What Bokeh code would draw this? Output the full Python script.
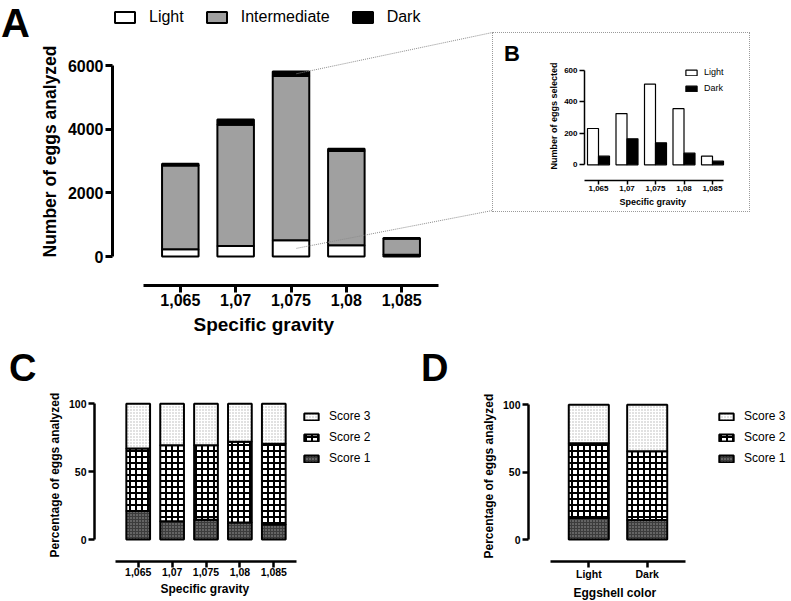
from bokeh.plotting import figure
from bokeh.layouts import column, row
from bokeh.models import (FixedTicker, Legend, LegendItem, Range1d, Spacer, Div, Title,
                          ColumnDataSource)
from bokeh.transform import dodge
from bokeh.embed import file_html
from bokeh.resources import INLINE

FONT = "Liberation Sans"

# ---------------- data ----------------
categories = ["1,065", "1,07", "1,075", "1,08", "1,085"]
light_counts = [231, 326, 513, 357, 55]
intermediate_counts = [2630, 3811, 5159, 2954, 506]
dark_counts = [55, 165, 140, 74, 23]

light_selected = [231, 326, 513, 357, 55]
dark_selected = [55, 165, 140, 74, 23]

score1_gravity = [21, 13.5, 14.5, 12.5, 11]
score2_gravity = [46, 56, 55, 59.5, 59.5]
score3_gravity = [33, 30.5, 30.5, 28, 29.5]

shell_colors = ["Light", "Dark"]
score1_color = [16, 14.5]
score2_color = [55.5, 51]
score3_color = [28.5, 34.5]

a_y_ticks = [0, 2000, 4000, 6000]
b_y_ticks = [0, 200, 400, 600]
pct_ticks = [0, 50, 100]


def span(v0, p0, v1, p1, lo_px, hi_px):
    k = (v1 - v0) / (p1 - p0)
    return Range1d(v0 + (lo_px - p0) * k, v0 + (hi_px - p0) * k)


def px_to_val(v0, p0, v1, p1, px):
    k = (v1 - v0) / (p1 - p0)
    return v0 + (px - p0) * k


def style_axis(ax, lw, tick_out, tick_px, label_standoff):
    ax.axis_line_width = lw
    ax.axis_line_color = "black"
    ax.major_tick_line_width = lw
    ax.major_tick_line_color = "black"
    ax.major_tick_out = tick_out
    ax.major_tick_in = 0
    ax.minor_tick_line_color = None
    ax.major_label_text_font = FONT
    ax.major_label_text_font_style = "bold"
    ax.major_label_text_font_size = f"{tick_px}px"
    ax.major_label_text_color = "black"
    ax.major_label_standoff = label_standoff


def axis_title(p, text, side, size, offset, standoff):
    p.add_layout(Title(text=text, align="left", offset=offset, standoff=standoff,
                       text_font=FONT, text_font_style="bold",
                       text_font_size=f"{size}px", text_color="black"), side)


def base_fig(width, height, xr, yr, left, right, top, bottom):
    p = figure(width=width, height=height, x_range=xr, y_range=yr,
               output_backend="svg", toolbar_location=None,
               min_border_left=left, min_border_right=right,
               min_border_top=top, min_border_bottom=bottom)
    p.outline_line_color = None
    p.grid.visible = False
    p.background_fill_color = "white"
    p.border_fill_color = "white"
    return p


def letter_div(text, width, height, size, pad_left, line_h):
    html = (f'<div style="font-family:\'{FONT}\';font-weight:bold;font-size:{size}px;'
            f'line-height:{line_h}px;margin:0;padding:0 0 0 {pad_left}px;color:black;">'
            f'{text}</div>')
    return Div(text=html, width=width, height=height, margin=0)


def make_legend(items, loc, gw, gh, font_px, spacing, standoff, orientation="vertical"):
    return Legend(items=items, location=loc, orientation=orientation,
                  glyph_width=gw, glyph_height=gh, label_height=gh,
                  label_text_font=FONT, label_text_font_size=f"{font_px}px",
                  label_text_color="black", label_standoff=standoff,
                  spacing=spacing, padding=0, margin=0,
                  border_line_color=None, background_fill_alpha=0)


xs = list(range(1, len(categories) + 1))
labels_map = {x: c for x, c in zip(xs, categories)}

# ---------------- Panel A ----------------
A_LEFT = 32
A_FRAME = (107, 492, 0, 285)  # left, right, top, bottom (page px)
div_a = letter_div("A", A_LEFT, 48, 40, 1, 46)
ax_anchor = (1, 175.7, 5, 400.0)
ay_anchor = (0, 256.0, 6000, 65.0)
pa = base_fig(A_FRAME[1] - A_LEFT, 345, span(*ax_anchor, A_FRAME[0], A_FRAME[1]),
              span(*ay_anchor, A_FRAME[3], A_FRAME[2]),
              A_FRAME[0] - A_LEFT, 0, 0, 60)
a_fills = ["white", "#a0a0a0", "black"]
a_names = ["Light", "Intermediate", "Dark"]
src_a = ColumnDataSource(dict(x=xs, light=light_counts,
                              intermediate=intermediate_counts, dark=dark_counts))
rs_a = pa.vbar_stack(["light", "intermediate", "dark"], x="x", width=0.66, source=src_a,
                     fill_color=a_fills, line_color="black", line_width=2)
pa.xaxis.ticker = FixedTicker(ticks=xs)
pa.xaxis.major_label_overrides = labels_map
pa.xaxis.bounds = (0.33, 5.67)
pa.yaxis.ticker = FixedTicker(ticks=a_y_ticks)
pa.yaxis.bounds = (0, 6000)
style_axis(pa.xaxis[0], 3, 7, 16, 1)
style_axis(pa.yaxis[0], 3, 7, 16, 2)
axis_title(pa, "Specific gravity", "below", 19, 188 - A_FRAME[0], 6)
axis_title(pa, "Number of eggs analyzed", "left", 17.5, A_FRAME[3] - 257, 10)
pa.add_layout(make_legend([LegendItem(label=n, renderers=[r]) for n, r in zip(a_names, rs_a)],
                          (0, 259), 25, 14, 16, 20, 12, orientation="horizontal"))

# zoom connector lines from the 1,075 bar to the panel B box corners
B_TOP, B_BOTTOM = 32, 210
i3 = 2
x_start = xs[i3] + 0.1
top3 = light_counts[i3] + intermediate_counts[i3] + dark_counts[i3]
x_end = pa.x_range.end
pa.line([x_start, x_end], [top3 - dark_counts[i3] / 2, px_to_val(*ay_anchor, B_TOP)],
        line_color="#8c8c8c", line_width=1, line_dash="1 1")
pa.line([x_start, x_end], [light_counts[i3] / 2, px_to_val(*ay_anchor, B_BOTTOM)],
        line_color="#8c8c8c", line_width=1, line_dash="1 1")

# ---------------- Panel B ----------------
B_H = B_BOTTOM - B_TOP
B_FRAME = (583, 740, 40, 179)
div_b = letter_div("B", 30, B_H, 22, 11, 2 * (60 - B_TOP) - 15)
bx_anchor = (1, 597.0, 5, 711.0)
by_anchor = (0, 163.3, 600, 69.0)
pb = base_fig(226, B_H, span(*bx_anchor, B_FRAME[0], B_FRAME[1]),
              span(*by_anchor, B_FRAME[3], B_FRAME[2]),
              B_FRAME[0] - 522, 748 - B_FRAME[1], B_FRAME[2] - B_TOP, B_BOTTOM - B_FRAME[3])
src_b = ColumnDataSource(dict(x=xs, light=light_selected, dark=dark_selected))
rb1 = pb.vbar(x=dodge("x", -0.193), top="light", width=0.386, source=src_b,
              fill_color="white", line_color="black", line_width=1.2)
rb2 = pb.vbar(x=dodge("x", 0.193), top="dark", width=0.386, source=src_b,
              fill_color="black", line_color="black", line_width=1.2)
pb.xaxis.ticker = FixedTicker(ticks=xs)
pb.xaxis.major_label_overrides = labels_map
pb.xaxis.bounds = (0.5, 5.4)
pb.yaxis.ticker = FixedTicker(ticks=b_y_ticks)
pb.yaxis.bounds = (0, 600)
style_axis(pb.xaxis[0], 1.5, 4, 8, 1)
style_axis(pb.yaxis[0], 1.5, 5, 8, 2)
axis_title(pb, "Specific gravity", "below", 9, 618 - B_FRAME[0], 3)
axis_title(pb, "Number of eggs selected", "left", 9, B_FRAME[3] - 168, 6)
pb.add_layout(make_legend([LegendItem(label="Light", renderers=[rb1]),
                           LegendItem(label="Dark", renderers=[rb2])],
                          (100, 87), 14, 7, 9, 6, 6))
b_box = row(div_b, pb)
b_box.styles = {"border": "1px dotted #9a9a9a"}

# ---------------- score panels ----------------
score_fill = ["#3c3c3c", "white", "white"]
score_pattern = [".", "+", "."]
score_hatch_color = ["#a0a0a0", "black", "#b4b4b4"]
score_hatch_scale = [3, 6, 3]
score_hatch_weight = [1, 2.0, 1]


def score_panel(p, xvals, s1, s2, s3, width):
    src = ColumnDataSource(dict(x=xvals, s1=s1, s2=s2, s3=s3))
    return p.vbar_stack(["s1", "s2", "s3"], x="x", width=width, source=src,
                        fill_color=score_fill, line_color="black", line_width=2,
                        hatch_pattern=score_pattern, hatch_color=score_hatch_color,
                        hatch_scale=score_hatch_scale, hatch_weight=score_hatch_weight)


def score_legend(rs, x):
    return make_legend([LegendItem(label="Score 3", renderers=[rs[2]]),
                        LegendItem(label="Score 2", renderers=[rs[1]]),
                        LegendItem(label="Score 1", renderers=[rs[0]])],
                       (x, 96), 18, 9, 12, 7, 9)


ROW2_TOP = 345
ROW2_H = 601 - ROW2_TOP

# ---------------- Panel C ----------------
C_LEFT = 36
C_FRAME = (94, 400, 400, 561)
div_c = letter_div("C", C_LEFT, 50, 38, 9, 47)
cx_anchor = (1, 137.7, 5, 273.3)
cy_anchor = (0, 539.0, 100, 403.3)
pc = base_fig(C_FRAME[1] - C_LEFT, ROW2_H, span(*cx_anchor, C_FRAME[0], C_FRAME[1]),
              span(*cy_anchor, C_FRAME[3], C_FRAME[2]),
              C_FRAME[0] - C_LEFT, 0, C_FRAME[2] - ROW2_TOP, 601 - C_FRAME[3])
rs_c = score_panel(pc, xs, score1_gravity, score2_gravity, score3_gravity, 0.7)
pc.xaxis.ticker = FixedTicker(ticks=xs)
pc.xaxis.major_label_overrides = labels_map
pc.xaxis.bounds = (0.33, 5.67)
pc.yaxis.ticker = FixedTicker(ticks=pct_ticks)
pc.yaxis.bounds = (0, 100)
style_axis(pc.xaxis[0], 2.5, 6, 10.5, 0)
style_axis(pc.yaxis[0], 2.5, 6, 10.5, 2)
axis_title(pc, "Specific gravity", "below", 12, 160 - C_FRAME[0], 2)
axis_title(pc, "Percentage of eggs analyzed", "left", 12, C_FRAME[3] - 557, 8)
pc.add_layout(score_legend(rs_c, 208))

# ---------------- Panel D ----------------
D_LEFT = 60
D_FRAME = (528, 790, 400, 561)
div_d = letter_div("D", D_LEFT, 50, 38, 21, 47)
xd = list(range(1, len(shell_colors) + 1))
dx_anchor = (1, 588.3, 2, 646.7)
dy_anchor = (0, 539.0, 100, 404.3)
pd = base_fig(D_FRAME[1] - 400 - D_LEFT, ROW2_H, span(*dx_anchor, D_FRAME[0], D_FRAME[1]),
              span(*dy_anchor, D_FRAME[3], D_FRAME[2]),
              D_FRAME[0] - 400 - D_LEFT, 0, D_FRAME[2] - ROW2_TOP, 601 - D_FRAME[3])
rs_d = score_panel(pd, xd, score1_color, score2_color, score3_color, 0.686)
pd.xaxis.ticker = FixedTicker(ticks=xd)
pd.xaxis.major_label_overrides = {x: c for x, c in zip(xd, shell_colors)}
pd.xaxis.bounds = (0.34, 2.66)
pd.yaxis.ticker = FixedTicker(ticks=pct_ticks)
pd.yaxis.bounds = (0, 100)
style_axis(pd.xaxis[0], 2.5, 6, 10.5, 0)
style_axis(pd.yaxis[0], 2.5, 6, 10.5, 2)
axis_title(pd, "Eggshell color", "below", 12, 573 - D_FRAME[0], 2)
axis_title(pd, "Percentage of eggs analyzed", "left", 12, D_FRAME[3] - 558, 8)
pd.add_layout(score_legend(rs_d, 189))

layout = column(
    row(div_a, pa, column(Spacer(width=256, height=B_TOP), b_box)),
    row(div_c, pc, div_d, pd),
)

open("out.html", "w").write(file_html(layout, INLINE))
